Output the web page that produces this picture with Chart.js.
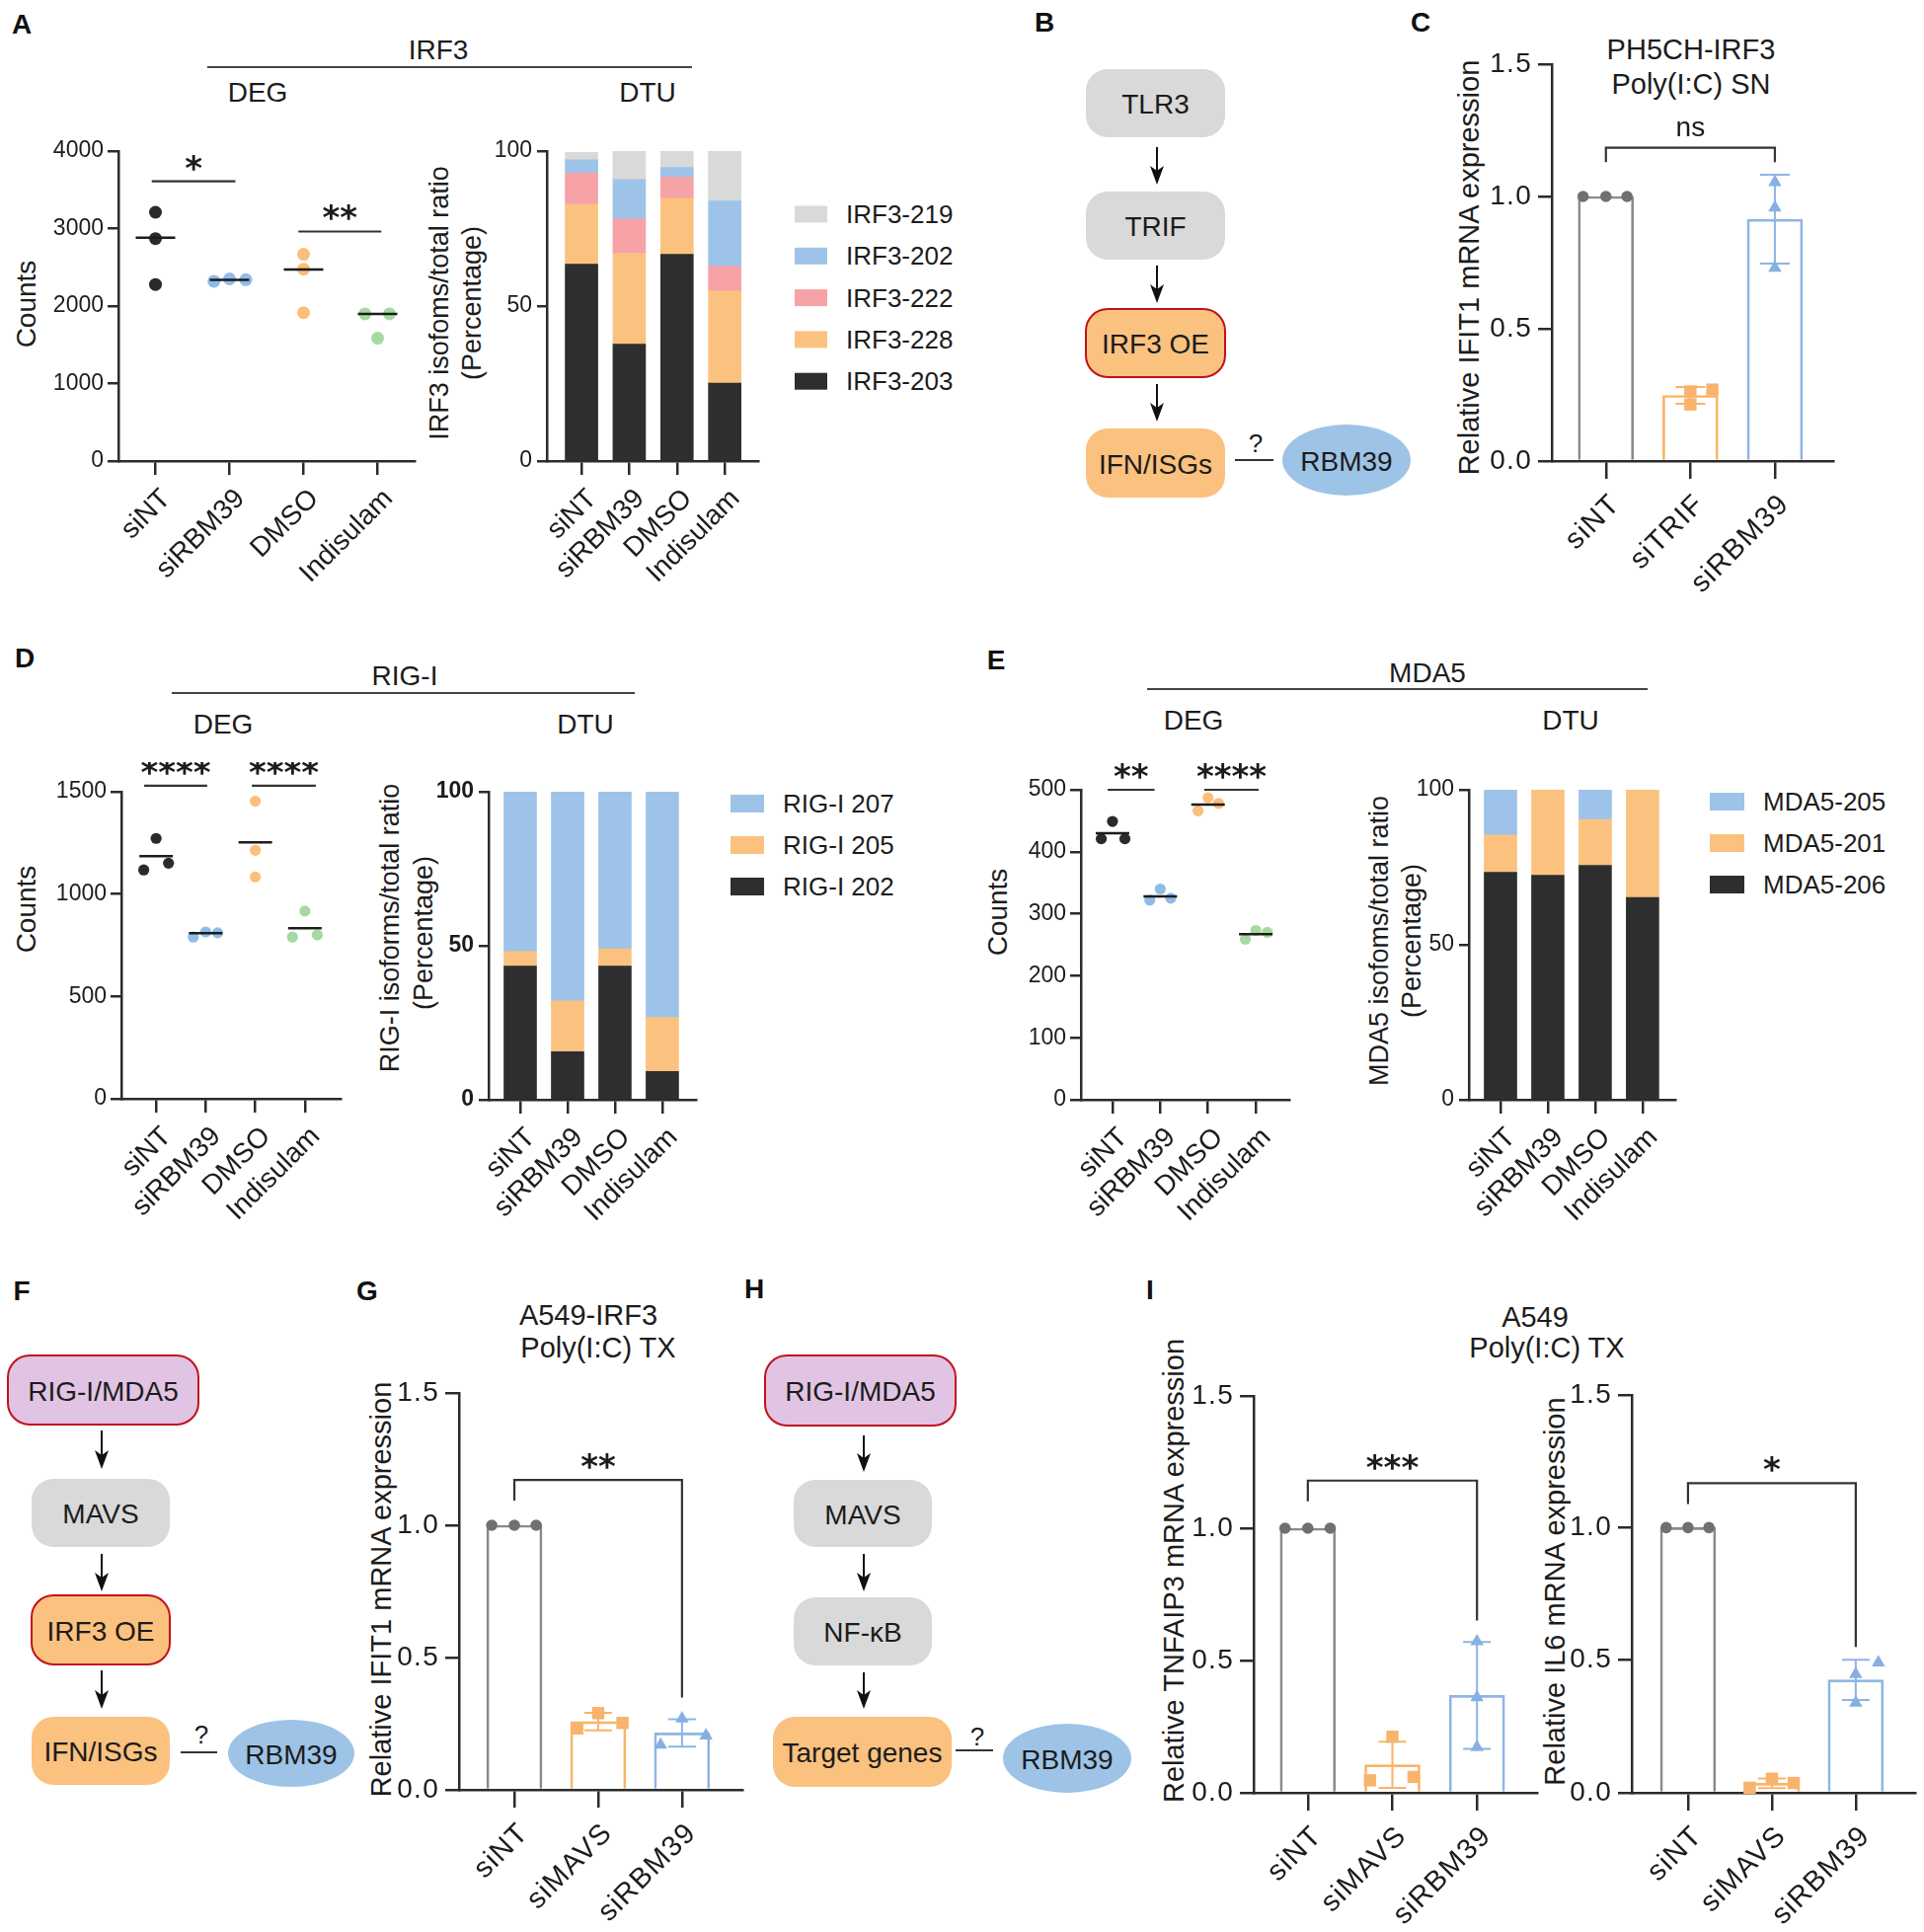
<!DOCTYPE html>
<html>
<head>
<meta charset="utf-8">
<title>RBM39 / IRF3 figure</title>
<script src="https://cdn.jsdelivr.net/npm/chart.js@4.4.1/dist/chart.umd.min.js"></script>
<style>
  html, body { margin:0; padding:0; background:#fff; }
  #page { position:relative; width:1949px; height:1957px; overflow:hidden; background:#fff; }
  #page canvas { position:absolute; }
  #ov { position:absolute; left:0; top:0; }
</style>
</head>
<body>
<div id="page"><svg id="ov" width="1949" height="1957" xmlns="http://www.w3.org/2000/svg"></svg></div>
<script>
// ================= DATA =================
// DEG groups
const degCats = ['siNT', 'siRBM39', 'DMSO', 'Indisulam'];
// A – IRF3 counts
const irf3Ticks = [0, 1000, 2000, 3000, 4000];
const irf3Counts = [[3210, 2871, 2278], [2320, 2350, 2340], [2668, 2476, 1914], [1899, 1585, 1899]];
const irf3Jitter = [[0, 0, 0], [-0.21, 0, 0.22], [0, 0, 0], [-0.17, 0, 0.16]];
const irf3Median = [2881, 2339, 2471, 1899];
const irf3Sig = [{from: -0.05, to: 1.08, y: 3610, label: '*'}, {from: 1.93, to: 3.05, y: 2962, label: '**'}];
// A – IRF3 isoform usage (%)
const pctTicks = [0, 50, 100];
const irf3Isoforms = ['IRF3-203', 'IRF3-228', 'IRF3-222', 'IRF3-202', 'IRF3-219'];
const irf3_203 = [63.5, 37.7, 66.7, 25.1];
const irf3_228 = [19.3, 29.3, 18.1, 29.7];
const irf3_222 = [10.1, 11.1, 6.8, 8.1];
const irf3_202 = [4.3, 12.7, 3.1, 21.0];
const irf3_219 = [2.4, 9.2, 5.3, 16.1];
// C – PH5CH-IRF3, Poly(I:C) SN
const relTicks = [0, 0.5, 1.0, 1.5];
const cCats = ['siNT', 'siTRIF', 'siRBM39'];
const cMean = [1.0, 0.248, 0.914];
const cSD = [0, 0.032, 0.168];
const cReps = [[1, 1, 1], [0.263, 0.214, 0.270], [1.054, 0.958, 0.730]];
const cJitter = [[-0.27, 0, 0.25], [0, 0, 0.26], [0, 0, 0]];
const cSig = [{from: 0, to: 2, y: 1.184, left: 1.13, right: 1.13, label: 'ns'}];
// D – RIG-I counts
const rigiTicks = [0, 500, 1000, 1500];
const rigiCounts = [[1118, 1272, 1151], [790, 815, 811], [1454, 1214, 1084], [790, 917, 800]];
const rigiJitter = [[-0.25, 0, 0.25], [-0.25, 0, 0.24], [0, 0, 0], [-0.25, 0, 0.25]];
const rigiMedian = [1185, 809, 1253, 833];
const rigiSig = [{from: -0.24, to: 1.03, y: 1530, label: '****'}, {from: 1.93, to: 3.22, y: 1530, label: '****'}];
// D – RIG-I isoform usage (%)
const rigiIsoforms = ['RIG-I 202', 'RIG-I 205', 'RIG-I 207'];
const rigi_202 = [43.4, 15.6, 43.4, 9.2];
const rigi_205 = [4.7, 16.5, 5.6, 17.5];
const rigi_207 = [51.9, 67.9, 51.0, 73.3];
// E – MDA5 counts
const mda5Ticks = [0, 100, 200, 300, 400, 500];
const mda5Counts = [[421, 449, 421], [322, 340, 325], [466, 487, 478], [259, 273, 270]];
const mda5Jitter = [[-0.235, 0, 0.26], [-0.22, 0, 0.22], [-0.21, 0, 0.22], [-0.22, 0, 0.24]];
const mda5Median = [430, 328, 476, 267];
const mda5Sig = [{from: -0.1, to: 0.88, y: 500, label: '**'}, {from: 1.92, to: 3.06, y: 500, label: '****'}];
// E – MDA5 isoform usage (%)
const mda5Isoforms = ['MDA5-206', 'MDA5-201', 'MDA5-205'];
const mda5_206 = [73.4, 72.4, 75.6, 65.3];
const mda5_201 = [12.0, 27.6, 14.8, 34.7];
const mda5_205 = [14.6, 0, 9.6, 0];
// G – A549-IRF3, IFIT1
const gCats = ['siNT', 'siMAVS', 'siRBM39'];
const gMean = [1.0, 0.258, 0.215];
const gSD = [0, 0.033, 0.052];
const gReps = [[1, 1, 1], [0.232, 0.290, 0.253], [0.170, 0.269, 0.205]];
const gJitter = [[-0.27, 0, 0.26], [-0.25, 0, 0.29], [-0.255, 0, 0.286]];
const gSig = [{from: 0, to: 2, y: 1.171, left: 1.093, right: 0.349, label: '**'}];
// I – A549, TNFAIP3
const iCats = ['siNT', 'siMAVS', 'siRBM39'];
const tnfMean = [1.0, 0.106, 0.368];
const tnfSD = [0, 0.087, 0.202];
const tnfReps = [[1, 1, 1], [0.047, 0.212, 0.060], [0.572, 0.361, 0.172]];
const tnfJitter = [[-0.27, 0, 0.265], [-0.265, 0, 0.25], [0, 0, 0]];
const tnfSig = [{from: 0, to: 2, y: 1.18, left: 1.102, right: 0.651, label: '***'}];
// I – A549, IL6
const il6Mean = [1.0, 0.036, 0.426];
const il6SD = [0, 0.018, 0.076];
const il6Reps = [[1, 1, 1], [0.019, 0.053, 0.037], [0.447, 0.339, 0.491]];
const il6Jitter = [[-0.26, 0, 0.25], [-0.265, 0, 0.26], [0, 0, 0.27]];
const il6Sig = [{from: 0, to: 2, y: 1.167, left: 1.089, right: 0.55, label: '*'}];

// ================= STYLE =================
const FONT = '"Liberation Sans", Arial, Helvetica, sans-serif';
const INK = '#1c1c1c';
const AX = '#2b2b2b';
const degColors = ['#2a2a2a', '#8fbbe8', '#fbbf7b', '#a6d9a0'];
const irf3IsoColors = ['#2e2e2e', '#fbc27f', '#f6a2a7', '#9dc3e8', '#d9d9d9'];
const triIsoColors = ['#2e2e2e', '#fbc27f', '#9dc3e8'];
const kdLine = ['#8a8a8a', '#f8b466', '#8db5e3'];
const kdFill = ['#707070', '#f8b46c', '#86b0e1'];
const kdShape = ['circle', 'rect', 'triangle'];
const kdRadius = [5.8, 8.8, 7.8];

Chart.defaults.font.family = FONT;
Chart.defaults.color = INK;

const page = document.getElementById('page');
const svg = document.getElementById('ov');
const NS = 'http://www.w3.org/2000/svg';

// ================= PLUGIN: error bars, medians, significance =================
const marksPlugin = {
  id: 'marks',
  beforeDraw(chart, args, o) { chart.ctx.letterSpacing = (o.spacing || 0) + 'px'; },
  afterDraw(chart) { chart.ctx.letterSpacing = '0px'; },
  beforeDatasetsDraw(chart, args, o) {
    const e = o.err; if (!e) return;
    const {ctx, scales: {x, y}} = chart;
    ctx.save(); ctx.lineWidth = 2;
    e.mean.forEach((m, i) => {
      const sd = e.sd[i]; if (!sd) return;
      const px = x.getPixelForValue(i), lo = y.getPixelForValue(m - sd), hi = y.getPixelForValue(m + sd);
      ctx.strokeStyle = e.colors[i];
      ctx.beginPath();
      ctx.moveTo(px, lo); ctx.lineTo(px, hi);
      ctx.moveTo(px - e.cap, lo); ctx.lineTo(px + e.cap, lo);
      ctx.moveTo(px - e.cap, hi); ctx.lineTo(px + e.cap, hi);
      ctx.stroke();
    });
    ctx.restore();
  },
  afterDatasetsDraw(chart, args, o) {
    const {ctx, scales: {x, y}} = chart;
    ctx.save();
    ctx.letterSpacing = '0px';
    if (o.med) {
      ctx.strokeStyle = INK; ctx.lineWidth = 2.5;
      o.med.values.forEach((v, i) => {
        const px = x.getPixelForValue(i), py = y.getPixelForValue(v);
        ctx.beginPath(); ctx.moveTo(px - o.med.half, py); ctx.lineTo(px + o.med.half, py); ctx.stroke();
      });
    }
    (o.sig || []).forEach(s => {
      const x1 = x.getPixelForValue(s.from), x2 = x.getPixelForValue(s.to), py = y.getPixelForValue(s.y);
      ctx.strokeStyle = '#333'; ctx.lineWidth = 2.2;
      ctx.beginPath();
      if (s.left != null) {
        ctx.moveTo(x1, y.getPixelForValue(s.left)); ctx.lineTo(x1, py); ctx.lineTo(x2, py); ctx.lineTo(x2, y.getPixelForValue(s.right));
      } else { ctx.moveTo(x1, py); ctx.lineTo(x2, py); }
      ctx.stroke();
      const stars = /^\*+$/.test(s.label);
      ctx.fillStyle = INK; ctx.textAlign = 'center'; ctx.textBaseline = 'alphabetic';
      ctx.font = stars ? 'bold 34px "DejaVu Sans"' : '28px ' + FONT;
      ctx.fillText(s.label, (x1 + x2) / 2, py - (stars ? 2 : 12));
    });
    ctx.restore();
  }
};

// ================= CHART FACTORY =================
function makeChart(c) {
  const padL = c.padL ?? 100, padT = 30, padR = c.padR ?? 20, padB = 175;
  const w = c.area.r - c.area.l + padL + padR, h = c.area.b - c.area.t + padT + padB;
  const cv = document.createElement('canvas');
  cv.width = w; cv.height = h;
  cv.style.left = (c.area.l - padL) + 'px'; cv.style.top = (c.area.t - padT) + 'px';
  cv.style.width = w + 'px'; cv.style.height = h + 'px';
  page.appendChild(cv);
  const marks = Object.assign({spacing: c.xSpacing || 0}, c.marks || {});
  return new Chart(cv, {
    type: c.type,
    data: {datasets: c.datasets},
    plugins: [marksPlugin],
    options: {
      responsive: false, animation: false, devicePixelRatio: 1,
      layout: {padding: {left: 0, top: padT, right: padR, bottom: 0}},
      plugins: {legend: {display: false}, tooltip: {enabled: false}, marks},
      scales: {
        x: {
          type: 'linear', offset: false, min: c.xr[0], max: c.xr[1], stacked: !!c.stacked,
          afterBuildTicks: a => { a.ticks = c.cats.map((_, i) => ({value: i})); },
          afterFit: a => { a.height = padB; },
          ticks: {callback: v => c.cats[v], autoSkip: false, minRotation: 45, maxRotation: 45,
                  padding: c.xPad, labelOffset: c.xOff, color: INK, font: {family: FONT, size: c.xFont}},
          grid: {offset: false, drawOnChartArea: false, drawTicks: true, tickLength: c.xTick, color: AX, lineWidth: 2.5},
          border: {display: true, color: AX, width: 2.5}
        },
        y: {
          type: 'linear', min: c.yr[0], max: c.yr[1], stacked: !!c.stacked,
          afterBuildTicks: a => { a.ticks = c.yTicks.map(v => ({value: v})); },
          afterFit: a => { a.width = padL; },
          ticks: {callback: c.yFmt || (v => String(v)), padding: c.yPad ?? 4, color: INK,
                  font: {family: FONT, size: c.yFont, weight: c.yBold ? 'bold' : 'normal'}},
          grid: {drawOnChartArea: false, drawTicks: true, tickLength: c.yTick, color: AX, lineWidth: 2.5},
          border: {display: true, color: AX, width: 2.5}
        }
      }
    }
  });
}

function degDatasets(counts, jitter, r) {
  return counts.map((g, i) => ({
    type: 'scatter', data: g.map((v, k) => ({x: i + jitter[i][k], y: v})),
    pointRadius: r, pointHoverRadius: r, backgroundColor: degColors[i], borderWidth: 0, clip: false
  }));
}
function isoDatasets(series, names, colors) {
  return series.map((vals, s) => ({
    type: 'bar', label: names[s], data: vals.map((v, i) => ({x: i, y: v})),
    backgroundColor: colors[s], borderWidth: 0, barThickness: 33, stack: 'iso'
  }));
}
function kdDatasets(mean, reps, jitter) {
  return [
    {type: 'bar', data: mean.map((v, i) => ({x: i, y: v})), backgroundColor: 'rgba(0,0,0,0)',
     borderColor: kdLine, borderWidth: 2, barThickness: 56, order: 2},
    ...reps.map((g, i) => ({
      type: 'scatter', data: g.map((v, k) => ({x: i + jitter[i][k], y: v})),
      pointStyle: kdShape[i], pointRadius: kdRadius[i], pointHoverRadius: kdRadius[i],
      backgroundColor: kdFill[i], borderWidth: 0, clip: false, order: 0
    }))
  ];
}
const fmt1 = v => v.toFixed(1);
const DEGX = {xFont: 28, xTick: 14, xPad: 8, xOff: 11};
const KDX = {xFont: 29, xTick: 18, xPad: 9, xOff: 10, xSpacing: 1.3};

// ---- Panel A
makeChart({type: 'scatter', area: {l: 120, t: 153, r: 420, b: 467}, padL: 110, cats: degCats, ...DEGX,
  xr: [-0.5, 3.5], yr: [0, 4000], yTicks: irf3Ticks, yFont: 23, yTick: 11,
  datasets: degDatasets(irf3Counts, irf3Jitter, 6.5), marks: {med: {values: irf3Median, half: 20}, sig: irf3Sig}});
makeChart({type: 'bar', stacked: true, area: {l: 554, t: 153, r: 768, b: 467}, padL: 70, cats: degCats, ...DEGX,
  xr: [-0.725, 3.70], yr: [0, 100], yTicks: pctTicks, yFont: 23, yTick: 10, yPad: 5,
  datasets: isoDatasets([irf3_203, irf3_228, irf3_222, irf3_202, irf3_219], irf3Isoforms, irf3IsoColors)});
// ---- Panel C
makeChart({type: 'bar', area: {l: 1572, t: 65, r: 1857, b: 467}, padL: 90, cats: cCats, ...KDX,
  xr: [-0.64, 2.69], yr: [0, 1.5], yTicks: relTicks, yFmt: fmt1, yFont: 28, yTick: 14, yPad: 6,
  datasets: kdDatasets(cMean, cReps, cJitter), marks: {err: {mean: cMean, sd: cSD, colors: kdLine, cap: 15}, sig: cSig}});
// ---- Panel D
makeChart({type: 'scatter', area: {l: 123, t: 802, r: 345, b: 1113}, padL: 110, cats: degCats, ...DEGX,
  xr: [-0.70, 3.72], yr: [0, 1500], yTicks: rigiTicks, yFont: 23, yTick: 11,
  datasets: degDatasets(rigiCounts, rigiJitter, 5.6), marks: {med: {values: rigiMedian, half: 17}, sig: rigiSig}});
makeChart({type: 'bar', stacked: true, area: {l: 495, t: 802, r: 705, b: 1114}, padL: 70, cats: degCats, ...DEGX,
  xr: [-0.667, 3.71], yr: [0, 100], yTicks: pctTicks, yFont: 23, yBold: true, yTick: 10, yPad: 5,
  datasets: isoDatasets([rigi_202, rigi_205, rigi_207], rigiIsoforms, triIsoColors)});
// ---- Panel E
makeChart({type: 'scatter', area: {l: 1095, t: 800, r: 1306, b: 1114}, padL: 80, cats: degCats, ...DEGX,
  xr: [-0.66, 3.70], yr: [0, 500], yTicks: mda5Ticks, yFont: 23, yTick: 11,
  datasets: degDatasets(mda5Counts, mda5Jitter, 5.6), marks: {med: {values: mda5Median, half: 17}, sig: mda5Sig}});
makeChart({type: 'bar', stacked: true, area: {l: 1488, t: 800, r: 1697, b: 1114}, padL: 70, cats: degCats, ...DEGX,
  xr: [-0.667, 3.69], yr: [0, 100], yTicks: pctTicks, yFont: 23, yTick: 10, yPad: 5,
  datasets: isoDatasets([mda5_206, mda5_201, mda5_205], mda5Isoforms, triIsoColors)});
// ---- Panel G
makeChart({type: 'bar', area: {l: 465, t: 1411, r: 752, b: 1813}, padL: 90, cats: gCats, ...KDX,
  xr: [-0.66, 2.72], yr: [0, 1.5], yTicks: relTicks, yFmt: fmt1, yFont: 28, yTick: 14, yPad: 6,
  datasets: kdDatasets(gMean, gReps, gJitter), marks: {err: {mean: gMean, sd: gSD, colors: kdLine, cap: 14}, sig: gSig}});
// ---- Panel I
makeChart({type: 'bar', area: {l: 1270, t: 1414, r: 1557, b: 1816}, padL: 90, cats: iCats, ...KDX,
  xr: [-0.64, 2.71], yr: [0, 1.5], yTicks: relTicks, yFmt: fmt1, yFont: 28, yTick: 14, yPad: 6,
  datasets: kdDatasets(tnfMean, tnfReps, tnfJitter), marks: {err: {mean: tnfMean, sd: tnfSD, colors: kdLine, cap: 14}, sig: tnfSig}});
makeChart({type: 'bar', area: {l: 1653, t: 1413, r: 1942, b: 1816}, padL: 90, padR: 7, cats: iCats, ...KDX,
  xr: [-0.67, 2.71], yr: [0, 1.5], yTicks: relTicks, yFmt: fmt1, yFont: 28, yTick: 14, yPad: 6,
  datasets: kdDatasets(il6Mean, il6Reps, il6Jitter), marks: {err: {mean: il6Mean, sd: il6SD, colors: kdLine, cap: 14}, sig: il6Sig}});

// ================= SVG: labels, diagrams, legends =================
function el(tag, attrs, text) {
  const e = document.createElementNS(NS, tag);
  for (const k in attrs) e.setAttribute(k, attrs[k]);
  if (text != null) e.textContent = text;
  svg.appendChild(e); return e;
}
function txt(x, y, s, size, o = {}) {
  const a = {x, y, 'font-size': size, 'font-family': FONT, 'text-anchor': o.anchor || 'middle',
    'dominant-baseline': 'central', 'font-weight': o.weight || 'normal', fill: o.fill || INK};
  if (o.rot) a.transform = `rotate(${o.rot} ${x} ${y})`;
  return el('text', a, s);
}
function hline(x1, x2, y, w = 2, c = '#444') { el('line', {x1, y1: y, x2, y2: y, stroke: c, 'stroke-width': w}); }
function box(cx, y1, y2, w, fill, stroke, label) {
  el('rect', {x: cx - w / 2, y: y1, width: w, height: y2 - y1, rx: 22, ry: 22, fill, stroke: stroke || 'none', 'stroke-width': stroke ? 2 : 0});
  txt(cx, (y1 + y2) / 2 + 1, label, 28);
}
function arrow(x, y1, y2) {
  el('line', {x1: x, y1, x2: x, y2: y2 - 12, stroke: '#111', 'stroke-width': 2});
  el('path', {d: `M${x - 7} ${y2 - 19} L${x} ${y2} L${x + 7} ${y2 - 19} L${x} ${y2 - 14} Z`, fill: '#111'});
}
function inhibit(qx, qy, x1, x2, y, ex, ey, rx, ry) {
  txt(qx, qy, '?', 26);
  hline(x1, x2, y, 2, '#333');
  el('ellipse', {cx: ex, cy: ey, rx, ry, fill: '#9dc3e6'});
  txt(ex, ey + 1, 'RBM39', 28);
}
function legend(names, colors, x, y0, dy, bw, bh, tx) {
  names.forEach((n, i) => {
    const y = y0 + i * dy;
    el('rect', {x, y: y - bh / 2, width: bw, height: bh, fill: colors[i]});
    txt(tx, y, n, 26, {anchor: 'start'});
  });
}

// panel letters
[['A', 22, 24], ['B', 1058, 22], ['C', 1439, 22], ['D', 25, 666], ['E', 1009, 668],
 ['F', 22, 1307], ['G', 372, 1307], ['H', 764, 1305], ['I', 1165, 1306]]
  .forEach(([s, x, y]) => txt(x, y, s, 28, {weight: 'bold', fill: '#111'}));

// section headings
txt(444, 50, 'IRF3', 28); hline(210, 701, 68);
txt(261, 93, 'DEG', 28); txt(656, 93, 'DTU', 28);
txt(410, 684, 'RIG-I', 28); hline(174, 643, 702);
txt(226, 733, 'DEG', 28); txt(593, 733, 'DTU', 28);
txt(1446, 681, 'MDA5', 28); hline(1162, 1669, 698);
txt(1209, 729, 'DEG', 28); txt(1591, 729, 'DTU', 28);

// chart titles
txt(1713, 50, 'PH5CH-IRF3', 29); txt(1713, 85, 'Poly(I:C) SN', 29);
txt(596, 1332, 'A549-IRF3', 29); txt(606, 1365, 'Poly(I:C) TX', 29);
txt(1555, 1334, 'A549', 29); txt(1567, 1365, 'Poly(I:C) TX', 29);

// y-axis titles
txt(26, 308, 'Counts', 28, {rot: -90});
txt(445, 307, 'IRF3 isofoms/total ratio', 27, {rot: -90});
txt(478, 307, '(Percentage)', 27, {rot: -90});
txt(1488, 271, 'Relative IFIT1 mRNA expression', 29, {rot: -90});
txt(26, 921, 'Counts', 28, {rot: -90});
txt(395, 940, 'RIG-I isoforms/total ratio', 27, {rot: -90});
txt(429, 945, '(Percentage)', 27, {rot: -90});
txt(1010, 924, 'Counts', 28, {rot: -90});
txt(1397, 953, 'MDA5 isofoms/total ratio', 27, {rot: -90});
txt(1430, 953, '(Percentage)', 27, {rot: -90});
txt(386, 1610, 'Relative IFIT1 mRNA expression', 29, {rot: -90});
txt(1189, 1591, 'Relative TNFAIP3 mRNA expression', 29, {rot: -90});
txt(1575, 1612, 'Relative IL6 mRNA expression', 29, {rot: -90});

// legends (top item = last stacked series)
legend([...irf3Isoforms].reverse(), [...irf3IsoColors].reverse(), 805, 217, 42.3, 33, 17, 857);
legend([...rigiIsoforms].reverse(), [...triIsoColors].reverse(), 740, 814, 42, 34, 18, 793);
legend([...mda5Isoforms].reverse(), [...triIsoColors].reverse(), 1732, 812, 42, 35, 18, 1786);

// diagram colours
const GREY = '#d9d9d9', ORANGE = '#fbc17e', PURPLE = '#e1c4e4', RED = '#c0121c';
// B
box(1170.5, 70, 139, 141, GREY, null, 'TLR3');
box(1170.5, 194, 263, 141, GREY, null, 'TRIF');
box(1170.5, 313, 382, 141, ORANGE, RED, 'IRF3 OE');
box(1170.5, 434, 504, 141, ORANGE, null, 'IFN/ISGs');
arrow(1172, 149, 187); arrow(1172, 269, 307); arrow(1172, 389, 427);
inhibit(1272, 449, 1251, 1290, 466, 1364, 466, 65, 36);
// F
box(104.5, 1373, 1443, 193, PURPLE, RED, 'RIG-I/MDA5');
box(102, 1498, 1567, 140, GREY, null, 'MAVS');
box(102, 1616, 1686, 140, ORANGE, RED, 'IRF3 OE');
box(102, 1739, 1808, 140, ORANGE, null, 'IFN/ISGs');
arrow(103, 1449, 1488); arrow(103, 1574, 1612); arrow(103, 1692, 1731);
inhibit(204, 1757, 183, 220, 1775, 295, 1776, 64, 34);
// H
box(871.5, 1373, 1444, 193, PURPLE, RED, 'RIG-I/MDA5');
box(874, 1499, 1567, 140, GREY, null, 'MAVS');
box(874, 1618, 1687, 140, GREY, null, 'NF-\u03BAB');
box(873.5, 1739, 1810, 181, ORANGE, null, 'Target genes');
arrow(875, 1454, 1491); arrow(875, 1574, 1612); arrow(875, 1694, 1731);
inhibit(990, 1759, 968, 1006, 1773, 1081, 1781, 65, 35);
</script>
</body>
</html>
